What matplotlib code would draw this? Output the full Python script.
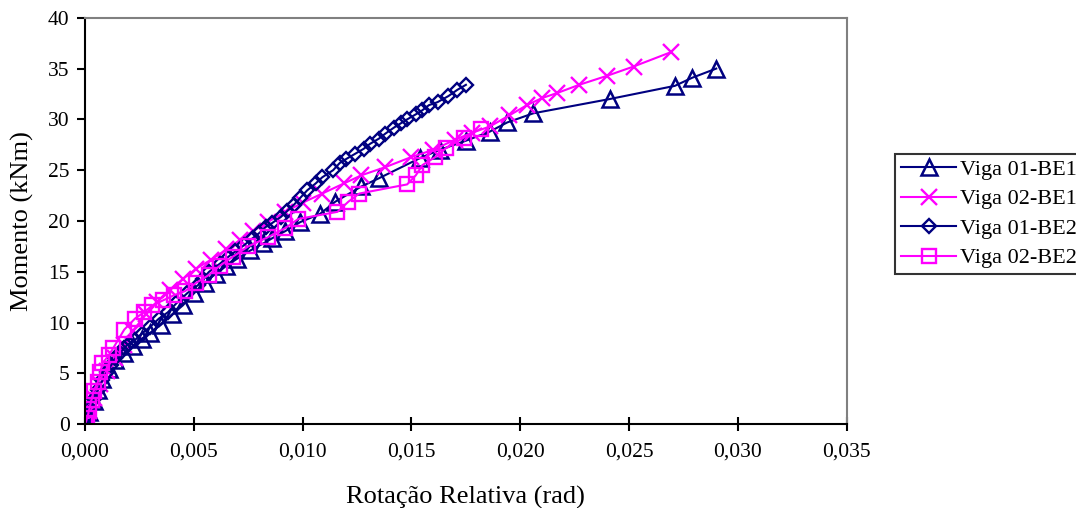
import numpy as np
import matplotlib
matplotlib.use('Agg')
import matplotlib.pyplot as plt
from matplotlib.ticker import FuncFormatter, MultipleLocator

# Viga 01-BE1 (navy, triangles)
rot_01be1 = [0, 0.0002, 0.0004, 0.0006, 0.0008, 0.0011, 0.0014, 0.0018, 0.0022, 0.0026,
             0.0030, 0.0035, 0.0040, 0.0045, 0.0050, 0.0055, 0.0060, 0.0065, 0.0070, 0.0076,
             0.0082, 0.0086, 0.0092, 0.0099, 0.0108, 0.0115, 0.0127, 0.0135, 0.0154, 0.0163,
             0.0175, 0.0186, 0.0194, 0.0206, 0.0241, 0.0271, 0.0279, 0.0290]
mom_01be1 = [0, 1.2, 2.3, 3.4, 4.4, 5.4, 6.3, 7.0, 7.7, 8.4,
             9.0, 9.8, 10.8, 11.7, 12.9, 13.9, 14.8, 15.6, 16.3, 17.1,
             17.8, 18.3, 19.0, 19.9, 20.7, 21.9, 23.4, 24.2, 26.2, 27.0,
             27.9, 28.8, 29.7, 30.6, 32.0, 33.3, 34.1, 35.0]

# Viga 02-BE1 (magenta, x)
rot_02be1 = [0, 0.0002, 0.0004, 0.0007, 0.0010, 0.0014, 0.0018, 0.0022, 0.0028, 0.0033,
             0.0039, 0.0045, 0.0051, 0.0058, 0.0065, 0.0071, 0.0077, 0.0084, 0.0092, 0.0100,
             0.0109, 0.0119, 0.0127, 0.0138, 0.0150, 0.0160, 0.0170, 0.0178, 0.0186, 0.0195,
             0.0203, 0.0210, 0.0217, 0.0227, 0.0240, 0.0252, 0.0269]
mom_02be1 = [0, 1.3, 2.6, 4.0, 5.2, 6.5, 7.8, 9.2, 10.8, 12.0,
             13.2, 14.3, 15.3, 16.2, 17.2, 18.1, 19.0, 19.9, 20.9, 21.8,
             22.7, 23.7, 24.5, 25.3, 26.3, 27.0, 28.0, 28.7, 29.3, 30.4,
             31.4, 32.1, 32.6, 33.4, 34.3, 35.2, 36.6]

# Viga 01-BE2 (navy, diamonds)
rot_01be2 = [0, 0.0001, 0.0002, 0.0004, 0.0006, 0.0008, 0.0010, 0.0012, 0.0014, 0.0016,
             0.0018, 0.0020, 0.0023, 0.0026, 0.0030, 0.0034, 0.0038, 0.0042, 0.0047, 0.0052,
             0.0054, 0.0057, 0.0062, 0.0066, 0.0069, 0.0073, 0.0077, 0.0080, 0.0083, 0.0086,
             0.0090, 0.0093, 0.0096, 0.0099, 0.0102, 0.0106, 0.0109, 0.0114, 0.0117, 0.0120,
             0.0124, 0.0128, 0.0131, 0.0135, 0.0138, 0.0142, 0.0145, 0.0148, 0.0152, 0.0155,
             0.0158, 0.0162, 0.0167, 0.0171, 0.0175]
mom_01be2 = [0, 0.8, 1.5, 2.5, 3.4, 4.3, 5.1, 5.8, 6.5, 7.0,
             7.5, 7.9, 8.3, 8.9, 9.6, 10.4, 11.0, 11.9, 12.9, 13.7,
             14.3, 15.0, 15.8, 16.5, 17.0, 17.6, 18.3, 18.8, 19.4, 19.8,
             20.4, 21.0, 21.6, 22.3, 23.0, 23.7, 24.3, 25.0, 25.7, 26.1,
             26.6, 27.1, 27.6, 28.1, 28.6, 29.2, 29.6, 30.0, 30.5, 30.9,
             31.4, 31.7, 32.3, 32.9, 33.4]

# Viga 02-BE2 (magenta, squares)
rot_02be2 = [0, 0.0001, 0.0002, 0.0003, 0.0004, 0.0006, 0.0007, 0.0008, 0.0011, 0.0013,
             0.0018, 0.0023, 0.0027, 0.0031, 0.0036, 0.0041, 0.0046, 0.0051, 0.0057, 0.0062,
             0.0068, 0.0075, 0.0084, 0.0092, 0.0098, 0.0116, 0.0121, 0.0126, 0.0148, 0.0152,
             0.0155, 0.0161, 0.0166, 0.0174, 0.0182]
mom_02be2 = [0, 0.6, 1.5, 2.4, 3.3, 4.2, 5.1, 6.0, 6.8, 7.5,
             9.3, 10.4, 11.0, 11.7, 12.2, 12.7, 13.1, 13.9, 14.7, 15.6,
             16.5, 17.5, 18.4, 19.3, 20.2, 20.9, 21.9, 22.7, 23.6, 24.5,
             25.5, 26.3, 27.2, 28.2, 29.1]

navy = '#000080'
magenta = '#FF00FF'

plt.rcParams['font.family'] = ['Liberation Serif', 'DejaVu Serif']

fig = plt.figure(figsize=(10.76, 5.08), dpi=100)
ax = fig.add_axes([0.079, 0.165, 0.708, 0.8])

ax.plot(rot_01be1, mom_01be1, color=navy, lw=1.5, marker='^', ms=11, mfc='none',
        mec=navy, mew=1.8, label='Viga 01-BE1')
ax.plot(rot_02be1, mom_02be1, color=magenta, lw=1.5, marker='x', ms=12,
        mec=magenta, mew=1.7, label='Viga 02-BE1')
ax.plot(rot_01be2, mom_01be2, color=navy, lw=1.5, marker='D', ms=7, mfc='none',
        mec=navy, mew=1.7, label='Viga 01-BE2')
ax.plot(rot_02be2, mom_02be2, color=magenta, lw=1.5, marker='s', ms=10, mfc='none',
        mec=magenta, mew=1.7, label='Viga 02-BE2')

ax.set_xlim(0, 0.035)
ax.set_ylim(0, 40)
ax.xaxis.set_major_locator(MultipleLocator(0.005))
ax.yaxis.set_major_locator(MultipleLocator(5))
ax.xaxis.set_major_formatter(FuncFormatter(lambda v, p: f"{v:.3f}".replace('.', ',')))
ax.yaxis.set_major_formatter(FuncFormatter(lambda v, p: f"{v:.0f}"))

for side in ['left', 'bottom']:
    ax.spines[side].set_color('black')
    ax.spines[side].set_linewidth(1.5)
for side in ['top', 'right']:
    ax.spines[side].set_color('#808080')
    ax.spines[side].set_linewidth(1.5)

ax.tick_params(axis='y', direction='out', length=6, width=1.5, labelsize=15.5, pad=5)
ax.tick_params(axis='x', direction='inout', length=10, width=1.5, labelsize=15.5, pad=8)

ax.set_xlabel('Rotação Relativa (rad)', fontsize=19, labelpad=18)
ax.set_ylabel('Momento (kNm)', fontsize=19, labelpad=10)

leg = fig.legend(loc='upper left', bbox_to_anchor=(0.832, 0.697), fontsize=16,
                 frameon=True, fancybox=False, edgecolor='black', handlelength=2.5,
                 handletextpad=0.15, borderpad=0.25, labelspacing=0.4, borderaxespad=0,
                 bbox_transform=fig.transFigure)
leg.get_frame().set_linewidth(1.5)

fig.savefig('out.png', dpi=100)
